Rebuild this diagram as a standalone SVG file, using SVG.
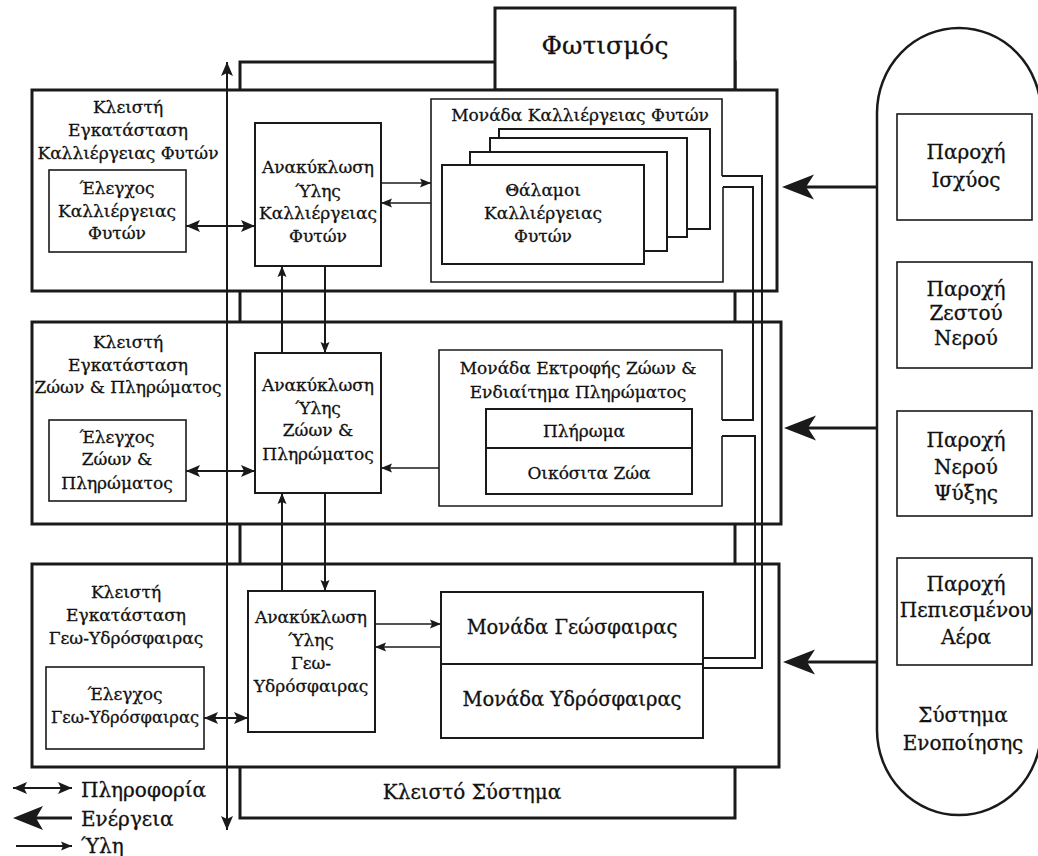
<svg xmlns="http://www.w3.org/2000/svg" width="1038" height="856" viewBox="0 0 1038 856">
<style>
text{font-family:"DejaVu Serif","Liberation Serif",serif;fill:#111;stroke:#111;stroke-width:0.3;text-anchor:middle;dominant-baseline:central;font-size:17px}
.thick{fill:#fff;stroke:#1a1a1a;stroke-width:3}
.box{fill:#fff;stroke:#1a1a1a;stroke-width:2}
.thin{fill:#fff;stroke:#1a1a1a;stroke-width:1.6}
.ln{fill:none;stroke:#1a1a1a;stroke-width:2}
.mat{fill:none;stroke:#1a1a1a;stroke-width:1.6;marker-end:url(#mh)}
.info{fill:none;stroke:#1a1a1a;stroke-width:2.2;marker-start:url(#ih);marker-end:url(#ih)}
.en{fill:none;stroke:#1a1a1a;stroke-width:3}
.eh{fill:#1a1a1a}
text.geo{font-size:19.5px}
text.cs{font-size:20px}
text.sup{font-size:20px}
text.ttl{font-size:25px}
text.sm{font-size:16.3px}
text.leg{font-size:20px;text-anchor:start}
</style>
<defs>
<marker id="mh" markerUnits="userSpaceOnUse" markerWidth="12" markerHeight="10" refX="11" refY="5" orient="auto">
<path d="M0,0.5 L11,5 L0,9.5 L2,5 Z" fill="#1a1a1a"/>
</marker>
<marker id="ih" markerUnits="userSpaceOnUse" markerWidth="15" markerHeight="12" refX="14" refY="6" orient="auto-start-reverse">
<path d="M0,0 L14,6 L0,12 L3,6 Z" fill="#1a1a1a"/>
</marker>
</defs>

<g id="closed-system">
<rect x="240" y="62" width="495" height="756" fill="none" stroke="#1a1a1a" stroke-width="3"/>
<text x="472" y="792" class="cs">Κλειστό Σύστημα</text>
</g>
<g id="lighting">
<rect x="495" y="8" width="240" height="82" class="thick"/>
<text x="605" y="45" class="ttl">Φωτισμός</text>
</g>

<g id="facility-plants">
<rect x="32" y="90" width="745" height="201" class="thick"/>
<text x="128" y="107">Κλειστή</text>
<text x="128" y="130">Εγκατάσταση</text>
<text x="128" y="153">Καλλιέργειας Φυτών</text>
</g>
<g id="facility-animals">
<rect x="32" y="322" width="749" height="202" class="thick"/>
<text x="128" y="342">Κλειστή</text>
<text x="128" y="365">Εγκατάσταση</text>
<text x="128" y="387">Ζώων &amp; Πληρώματος</text>
</g>
<g id="facility-geo">
<rect x="32" y="564" width="747" height="203" class="thick"/>
<text x="126" y="592">Κλειστή</text>
<text x="126" y="615">Εγκατάσταση</text>
<text x="126" y="638">Γεω-Υδρόσφαιρας</text>
</g>

<g id="control-plants">
<rect x="49" y="170" width="137" height="82" class="thin"/>
<text x="117" y="188">Έλεγχος</text>
<text x="117" y="211">Καλλιέργειας</text>
<text x="117" y="233">Φυτών</text>
</g>
<g id="control-animals">
<rect x="49" y="420" width="137" height="81" class="thin"/>
<text x="117" y="437">Έλεγχος</text>
<text x="117" y="459">Ζώων &amp;</text>
<text x="117" y="483">Πληρώματος</text>
</g>
<g id="control-geo">
<rect x="46" y="667" width="158" height="82" class="thin"/>
<text x="125" y="694">Έλεγχος</text>
<text x="125" y="717" class="sm">Γεω-Υδρόσφαιρας</text>
</g>

<g id="recycle-plants">
<rect x="255" y="123" width="126" height="143" class="box"/>
<text x="318" y="167">Ανακύκλωση</text>
<text x="318" y="191">Ύλης</text>
<text x="318" y="213">Καλλιέργειας</text>
<text x="318" y="236">Φυτών</text>
</g>
<g id="recycle-animals">
<rect x="255" y="353" width="126" height="140" class="box"/>
<text x="318" y="385">Ανακύκλωση</text>
<text x="318" y="408">Ύλης</text>
<text x="318" y="430">Ζώων &amp;</text>
<text x="318" y="454">Πληρώματος</text>
</g>
<g id="recycle-geo">
<rect x="248" y="591" width="127" height="141" class="box"/>
<text x="311" y="617">Ανακύκλωση</text>
<text x="311" y="640">Ύλης</text>
<text x="311" y="663">Γεω-</text>
<text x="311" y="686">Υδρόσφαιρας</text>
</g>

<g id="plant-unit">
<path d="M722,176 V99 H431 V282 H723 V187" class="thin"/>
<text x="580" y="115">Μονάδα Καλλιέργειας Φυτών</text>
<rect x="499" y="129" width="211" height="100" class="box"/>
<rect x="490" y="138" width="197" height="99" class="box"/>
<rect x="470" y="152" width="197" height="99" class="box"/>
<rect x="442" y="165" width="202" height="99" class="box"/>
<text x="543" y="190">Θάλαμοι</text>
<text x="543" y="213">Καλλιέργειας</text>
<text x="543" y="236">Φυτών</text>
</g>

<g id="animal-unit">
<path d="M722,420 V350 H439 V506 H722 V436" class="thin"/>
<text x="578" y="368">Μονάδα Εκτροφής Ζώων &amp;</text>
<text x="578" y="392">Ενδιαίτημα Πληρώματος</text>
<rect x="486" y="409" width="206" height="85" class="box"/>
<line x1="486" y1="448" x2="692" y2="448" class="ln"/>
<text x="584" y="431">Πλήρωμα</text>
<text x="589" y="473">Οικόσιτα Ζώα</text>
</g>

<g id="geo-unit">
<rect x="441" y="592" width="262" height="146" class="box"/>
<line x1="441" y1="664" x2="703" y2="664" class="ln"/>
<text x="572" y="627" class="geo">Μονάδα Γεώσφαιρας</text>
<text x="572" y="699" class="geo">Μονάδα Υδρόσφαιρας</text>
</g>

<g id="integration-system">
<path d="M877,113 A82,85 0 0 1 1041,113 V730 A82,85 0 0 1 877,730 Z" fill="#fff" stroke="#1a1a1a" stroke-width="2.5"/>
<text x="963" y="715" class="sup">Σύστημα</text>
<text x="963" y="743" class="sup">Ενοποίησης</text>
</g>
<g id="supply-power">
<rect x="897" y="114" width="135" height="106" class="thin"/>
<text x="966" y="152" class="sup">Παροχή</text>
<text x="966" y="180" class="sup">Ισχύος</text>
</g>
<g id="supply-hot-water">
<rect x="897" y="262" width="135" height="106" class="thin"/>
<text x="966" y="289" class="sup">Παροχή</text>
<text x="966" y="313" class="sup">Ζεστού</text>
<text x="966" y="338" class="sup">Νερού</text>
</g>
<g id="supply-cooling-water">
<rect x="897" y="411" width="135" height="105" class="thin"/>
<text x="966" y="440" class="sup">Παροχή</text>
<text x="966" y="467" class="sup">Νερού</text>
<text x="966" y="493" class="sup">Ψύξης</text>
</g>
<g id="supply-air">
<rect x="897" y="558" width="135" height="107" class="thin"/>
<text x="966" y="584" class="sup">Παροχή</text>
<text x="966" y="610" class="sup">Πεπιεσμένου</text>
<text x="966" y="637" class="sup">Αέρα</text>
</g>

<g id="connectors">
<path d="M722,176 H762 V668 H703" class="ln"/>
<path d="M723,187 H753 V420 H722" class="ln"/>
<path d="M722,436 H755 V658 H703" class="ln"/>

<line x1="186" y1="226" x2="255" y2="226" class="info"/>
<line x1="186" y1="471" x2="255" y2="471" class="info"/>
<line x1="204" y1="718" x2="248" y2="718" class="info"/>

<line x1="282" y1="353" x2="282" y2="266" class="mat" style="stroke-width:2"/>
<line x1="282" y1="591" x2="282" y2="493" class="mat" style="stroke-width:2"/>
<line x1="325" y1="266" x2="325" y2="353" class="mat" style="stroke-width:2"/>
<line x1="325" y1="493" x2="325" y2="591" class="mat" style="stroke-width:2"/>

<line x1="381" y1="183" x2="431" y2="183" class="mat"/>
<line x1="431" y1="203" x2="381" y2="203" class="mat"/>
<line x1="439" y1="468" x2="381" y2="468" class="mat"/>
<line x1="375" y1="624" x2="441" y2="624" class="mat"/>
<line x1="441" y1="647" x2="375" y2="647" class="mat"/>

<line x1="877" y1="187" x2="805" y2="187" class="en"/>
<path d="M782,187 L814,174.5 L806,187 L814,199.5 Z" class="eh"/>
<line x1="877" y1="428" x2="805" y2="428" class="en"/>
<path d="M784,428 L816,415.5 L808,428 L816,440.5 Z" class="eh"/>
<line x1="877" y1="662" x2="805" y2="662" class="en"/>
<path d="M783,662 L815,649.5 L807,662 L815,674.5 Z" class="eh"/>

<line x1="227" y1="62" x2="227" y2="830" class="info" style="stroke-width:2"/>
</g>

<g id="legend">
<line x1="13" y1="788" x2="72" y2="788" class="info"/>
<text x="81" y="790" class="leg">Πληροφορία</text>
<line x1="72" y1="818" x2="36" y2="818" class="en"/>
<path d="M13,818 L43,806 L36,818 L43,830 Z" class="eh"/>
<text x="81" y="819" class="leg">Ενέργεια</text>
<line x1="16" y1="846" x2="72" y2="846" class="mat" style="stroke-width:2.2"/>
<text x="81" y="846" class="leg">Ύλη</text>
</g>
</svg>
